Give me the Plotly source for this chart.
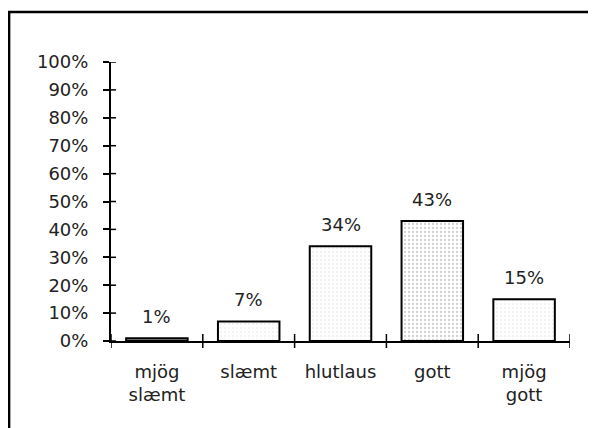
import plotly.graph_objects as go

categories = ["mjög<br>slæmt", "slæmt", "hlutlaus", "gott", "mjög<br>gott"]
values = [1, 7, 34, 43, 15]
labels = ["1%", "7%", "34%", "43%", "15%"]
ytick_vals = [0, 10, 20, 30, 40, 50, 60, 70, 80, 90, 100]
ytick_text = [f"{v}%" for v in ytick_vals]

pattern_fg = ["#222222", "#c4c4c4", "#c0c0c0", "#a0a0a0", "#c4c4c4"]
solidity = [1.0, 0.1, 0.12, 0.25, 0.12]

xs = list(range(len(categories)))
font = dict(family="DejaVu Sans, Liberation Sans, sans-serif", size=18, color="#222222")

fig = go.Figure()
fig.add_trace(go.Bar(
    x=xs, y=values, width=0.67,
    marker=dict(color="white", line=dict(color="black", width=2),
                pattern=dict(shape=".", fgcolor=pattern_fg, bgcolor="white",
                             size=4, solidity=solidity)),
    hoverinfo="skip",
))

for x, v, t in zip(xs, values, labels):
    fig.add_annotation(x=x, y=v, text=t, showarrow=False, yanchor="bottom",
                       yshift=9, font=font)

shapes = []
# frame
shapes.append(dict(type="rect", xref="paper", yref="paper", x0=-0.222, x1=1.2,
                   y0=-0.5, y1=1.179, line=dict(color="black", width=2.5)))
# inner parts of y ticks
for v in ytick_vals:
    shapes.append(dict(type="line", xref="paper", yref="y", x0=0, x1=0.011,
                       y0=v, y1=v, line=dict(color="black", width=1.5)))
# x ticks at category boundaries (crossing)
for b in [-0.5, 0.5, 1.5, 2.5, 3.5, 4.5]:
    shapes.append(dict(type="line", xref="x", yref="paper", x0=b, x1=b,
                       y0=-0.025, y1=0.025, line=dict(color="black", width=1.5)))
fig.update_layout(shapes=shapes)

fig.update_layout(
    width=588, height=420,
    margin=dict(l=103, r=26, t=54, b=87),
    paper_bgcolor="white", plot_bgcolor="white",
    showlegend=False, font=font,
    xaxis=dict(range=[-0.5, 4.5], tickvals=xs, ticktext=categories,
               showgrid=False, zeroline=False, showline=True,
               linecolor="black", linewidth=2, ticks="",
               ticklabelstandoff=13, tickfont=font),
    yaxis=dict(range=[0, 100], tickvals=ytick_vals, ticktext=ytick_text,
               showgrid=False, zeroline=False, showline=True,
               linecolor="black", linewidth=2, ticks="outside", ticklen=6,
               tickwidth=1.5, tickcolor="black", tickfont=font,
               ticklabelstandoff=11),
)

fig.write_html("out.html")
